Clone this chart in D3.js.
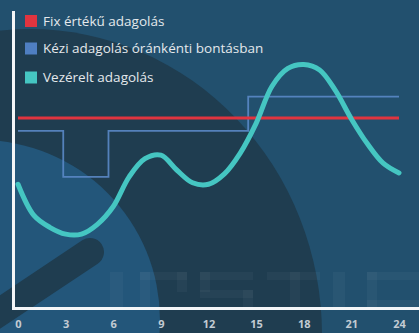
<!DOCTYPE html>
<html><head><meta charset="utf-8">
<script src="https://cdn.jsdelivr.net/npm/d3@7"></script>
<style>html,body{margin:0;padding:0;background:#22506e;overflow:hidden}</style>
</head><body>
<svg id="c" width="419" height="333"></svg>
<script>
const hours = [0,1,2,3,4,5,6,7,8,9,10,11,12,13,14,15,16,17,18,19,20,21,22,23,24];
const controlled = [42,31.5,27.5,25.2,25.2,28.5,34.5,44.5,50.6,51.8,46.8,42.5,42,45.5,52.5,62.5,75,81,82.3,80.5,73.5,64,55.7,49.1,45.8];
const fixedHours = [0,24];
const fixedValues = [64.3,64.3];
const manualHours = [0,2.85,5.7,14.5,24];
const manualValues = [60,44.5,60,71.5,71.5];
const tickHours = [0,3,6,9,12,15,18,21,24];
const seriesNames = ["Fix értékű adagolás","Kézi adagolás óránkénti bontásban","Vezérelt adagolás"];
const seriesColors = ["#e0343f","#4f7fc2","#45c6c2"];

const W=419,H=333;
const svg=d3.select("#c");
const x=d3.scaleLinear().domain([0,24]).range([18,399]);
const y=d3.scaleLinear().domain([0,100]).range([309,12]);

// background decoration
const bg=svg.append("g");
bg.append("rect").attr("width",W).attr("height",H).attr("fill","#22506e");
bg.append("ellipse").attr("cx",30).attr("cy",335).attr("rx",292).attr("ry",306).attr("fill","#1f3d50");
bg.append("circle").attr("cx",-20).attr("cy",320).attr("r",180).attr("fill","#23567a");
bg.append("line").attr("x1",-15).attr("y1",322).attr("x2",90).attr("y2",252)
  .attr("stroke","#1f3d50").attr("stroke-width",28).attr("stroke-linecap","round");
const wm=[[110,272,13,36],[140,272,47,8],[140,272,10,36],[177,272,10,20],[200,272,53,8],[200,272,10,20],[200,290,53,8],[243,290,10,18],[267,272,53,8],[290,272,10,36],[333,272,12,36],[367,272,52,8],[367,272,10,36],[367,300,52,8]];
bg.selectAll("rect.wm").data(wm).join("rect").attr("class","wm")
  .attr("x",d=>d[0]).attr("y",d=>d[1]).attr("width",d=>d[2]).attr("height",d=>d[3])
  .attr("fill","#ffffff").attr("opacity",0.035);

// manual step line
const manual=manualHours.map((h,i)=>[h,manualValues[i]]);
svg.append("path").datum(manual)
  .attr("d",d3.line().x(d=>x(d[0])).y(d=>y(d[1])).curve(d3.curveStepAfter))
  .attr("fill","none").attr("stroke","#5a88c6").attr("stroke-width",1.8).attr("opacity",0.9);

// fixed line
const fixed=fixedHours.map((h,i)=>[h,fixedValues[i]]);
svg.append("path").datum(fixed)
  .attr("d",d3.line().x(d=>x(d[0])).y(d=>y(d[1])))
  .attr("fill","none").attr("stroke",seriesColors[0]).attr("stroke-width",3);

// controlled curve
const ctrl=hours.map((h,i)=>[h,controlled[i]]);
svg.append("path").datum(ctrl)
  .attr("d",d3.line().x(d=>x(d[0])).y(d=>y(d[1])).curve(d3.curveCatmullRom))
  .attr("fill","none").attr("stroke",seriesColors[2]).attr("stroke-width",5).attr("stroke-linecap","round");

// axes
svg.append("line").attr("x1",13.5).attr("x2",13.5).attr("y1",11).attr("y2",310).attr("stroke","#f4f6f8").attr("stroke-width",3);
svg.append("line").attr("x1",12).attr("x2",W).attr("y1",308.5).attr("y2",308.5).attr("stroke","#f4f6f8").attr("stroke-width",3);
const ax=svg.append("g").attr("transform","translate(0,317)")
  .call(d3.axisBottom(x).tickValues(tickHours).tickSize(0).tickFormat(d3.format("d")));
ax.select(".domain").remove();
ax.selectAll("text").attr("fill","#c3cbd3").attr("font-family","Open Sans, sans-serif")
  .attr("font-size",11).attr("font-weight","bold").attr("dy","0.71em");

// legend
const leg=svg.append("g");
const rowsY=[21,48.5,77.5];
seriesNames.forEach((n,i)=>{
  leg.append("rect").attr("x",25).attr("y",rowsY[i]-6).attr("width",12).attr("height",12).attr("fill",seriesColors[i]);
  leg.append("text").attr("x",43).attr("y",rowsY[i]+4.5).text(n)
    .attr("fill","#e4e8ec").attr("font-family","Open Sans, sans-serif").attr("font-size",13.5);
});
</script>
</body></html>
